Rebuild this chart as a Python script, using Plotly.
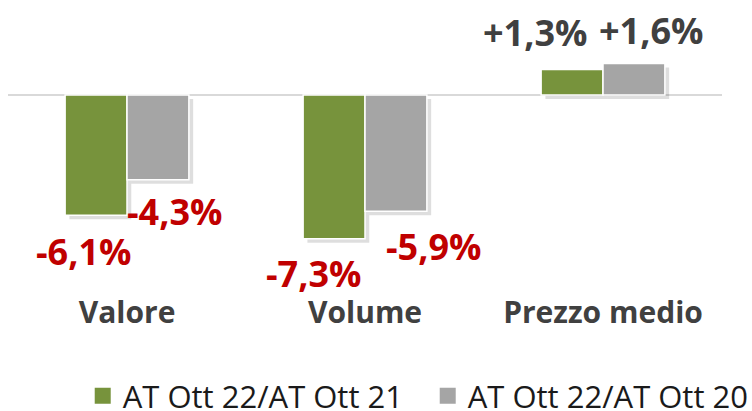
import plotly.graph_objects as go

# Variazioni percentuali per categoria
categories = ["Valore", "Volume", "Prezzo medio"]
series_names = ["AT Ott 22/AT Ott 21", "AT Ott 22/AT Ott 20"]
var_vs_21 = [-6.1, -7.3, 1.3]
var_vs_20 = [-4.3, -5.9, 1.6]

colors = ["#77933C", "#A5A5A5"]
neg_color = "#C00000"
pos_color = "#404040"
font_family = "Open Sans, Segoe UI, sans-serif"

bar_w = 0.26
offsets = [-bar_w, 0.0]
series = [var_vs_21, var_vs_20]

# label placement (pixel shifts from the category centre / bar end)
label_shift = [
    [(-44, -36), (-52, -35), (-68, 37)],
    [(47, -32), (68, -35), (48, 33)],
]


def fmt(v):
    s = f"{v:+.1f}%".replace(".", ",")
    return s


fig = go.Figure()

# soft drop shadows behind the bars
for vals, off in zip(series, offsets):
    fig.add_trace(go.Bar(
        x=categories, y=vals, base=[-0.2] * len(vals),
        offset=off + 0.018, width=bar_w,
        marker=dict(color="rgba(0,0,0,0.13)", line=dict(width=0)),
        showlegend=False, hoverinfo="skip",
    ))

for name, vals, off, col in zip(series_names, series, offsets, colors):
    fig.add_trace(go.Bar(
        x=categories, y=vals, name=name,
        offset=off, width=bar_w,
        marker=dict(color=col, line=dict(color="white", width=1.5)),
        showlegend=False,
    ))
    # legend entry with a square marker
    fig.add_trace(go.Scatter(
        x=[None], y=[None], mode="markers", name=name,
        marker=dict(symbol="square", size=17, color=col),
        showlegend=True,
    ))

for s_idx, vals in enumerate(series):
    for c_idx, (cat, v) in enumerate(zip(categories, vals)):
        dx, dy = label_shift[s_idx][c_idx]
        txt = fmt(v) if v > 0 else fmt(v).replace("+", "")
        fig.add_annotation(
            x=cat, y=v, xref="x", yref="y", text=f"<b>{txt}</b>",
            showarrow=False, xshift=dx, yshift=dy,
            font=dict(family=font_family, size=36,
                      color=neg_color if v < 0 else pos_color),
        )

fig.update_layout(
    width=752, height=411,
    margin=dict(l=8, r=30, t=36, b=119),
    paper_bgcolor="white", plot_bgcolor="white",
    barmode="overlay",
    font=dict(family=font_family),
    xaxis=dict(
        showline=False, showgrid=False, ticks="",
        tickfont=dict(size=30, color="#404040", family=font_family),
        ticktext=[f"<b>{c}</b>" for c in categories],
        tickvals=categories,
        fixedrange=True,
    ),
    yaxis=dict(
        range=[-10, 3], showgrid=False, showticklabels=False,
        zeroline=True, zerolinecolor="#D9D9D9", zerolinewidth=2,
        fixedrange=True,
    ),
    legend=dict(
        orientation="h", xref="container", yref="container",
        x=0.11, xanchor="left", y=0.036, yanchor="middle",
        font=dict(size=31, color="#1a1a1a", family=font_family),
        itemsizing="trace", tracegroupgap=0, entrywidth=300,
    ),
    showlegend=True,
)

fig.write_html("out.html")
